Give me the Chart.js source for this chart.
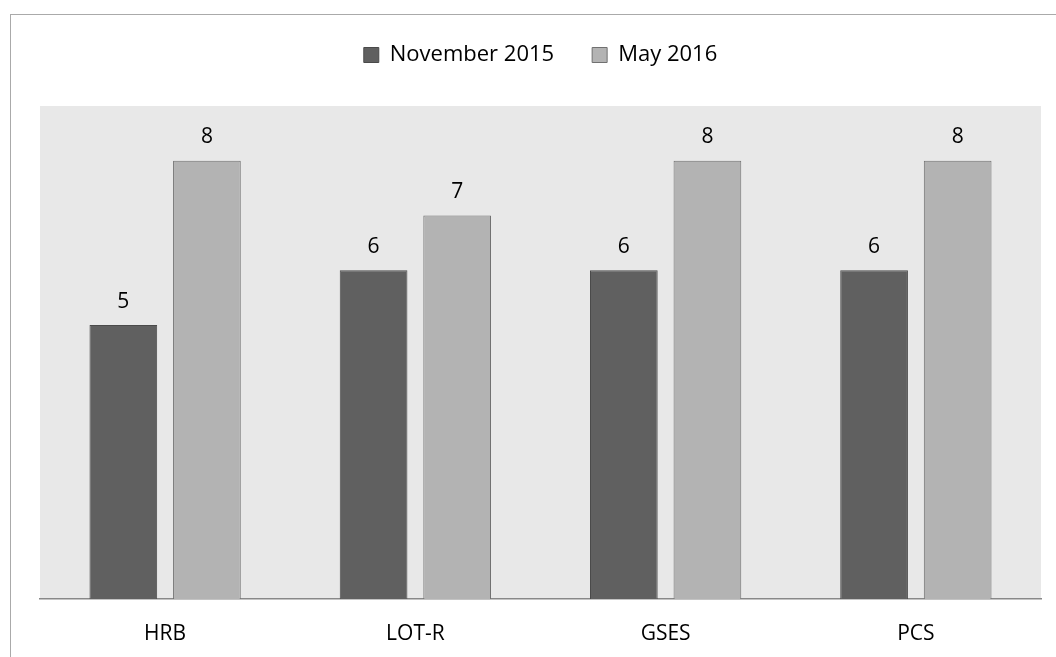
<!DOCTYPE html>
<html lang="en">
<head>
  <meta charset="UTF-8" />
  <title>Survey scores</title>
  <script src="https://cdn.jsdelivr.net/npm/chart.js"></script>
  <style>
    html, body { margin: 0; padding: 0; background: #fff; }
    .wrap { position: relative; width: 1056px; height: 657px; }
    .frame { position: absolute; left: 10px; top: 14px; right: 0; bottom: 0; border-left: 1px solid #aaa; border-top: 1px solid #aaa; pointer-events: none; }
    canvas { position: absolute; left: 0; top: 0; }
  </style>
</head>
<body>
  <div class="wrap">
    <canvas id="chart" width="1056" height="657"></canvas>
    <div class="frame"></div>
  </div>

  <script>
    const categories = ['HRB', 'LOT-R', 'GSES', 'PCS'];
    const nov2015 = [5, 6, 6, 6];
    const may2016 = [8, 7, 8, 8];

    const font = "'Open Sans', 'Liberation Sans', sans-serif";

    // grey plot background
    const plotBg = {
      id: 'plotBg',
      beforeDraw(chart) {
        const { ctx, chartArea: a } = chart;
        ctx.save();
        ctx.fillStyle = '#e8e8e8';
        ctx.fillRect(a.left, a.top, a.right - a.left, a.bottom - a.top);
        ctx.restore();
      }
    };

    // extra gap between legend and plot
    const legendGap = {
      id: 'legendGap',
      beforeInit(chart) {
        const fit = chart.legend.fit;
        chart.legend.fit = function () {
          fit.bind(chart.legend)();
          this.height += 30;
        };
      }
    };

    // value labels above the bars
    const valueLabels = {
      id: 'valueLabels',
      afterDatasetsDraw(chart) {
        const { ctx } = chart;
        ctx.save();
        ctx.fillStyle = '#000';
        ctx.font = `21px ${font}`;
        ctx.textAlign = 'center';
        ctx.textBaseline = 'bottom';
        chart.data.datasets.forEach((ds, i) => {
          chart.getDatasetMeta(i).data.forEach((bar, j) => {
            ctx.fillText(ds.data[j], bar.x, bar.y - 13);
          });
        });
        ctx.restore();
      }
    };

    new Chart(document.getElementById('chart'), {
      type: 'bar',
      data: {
        labels: categories,
        datasets: [
          {
            label: 'November 2015',
            data: nov2015,
            backgroundColor: '#606060',
            borderColor: '#4a4a4a',
            borderWidth: 1,
            categoryPercentage: 0.668,
            barPercentage: 0.81
          },
          {
            label: 'May 2016',
            data: may2016,
            backgroundColor: '#b3b3b3',
            borderColor: '#707070',
            borderWidth: 1,
            categoryPercentage: 0.668,
            barPercentage: 0.81
          }
        ]
      },
      options: {
        responsive: false,
        animation: false,
        layout: { padding: { left: 40, right: 15, top: 6, bottom: 0 } },
        plugins: {
          legend: {
            position: 'top',
            labels: {
              color: '#000',
              font: { family: font, size: 22 },
              boxWidth: 15,
              boxHeight: 15,
              padding: 38
            }
          },
          tooltip: { enabled: false }
        },
        scales: {
          y: {
            display: false,
            min: 0,
            max: 9
          },
          x: {
            grid: { display: false, drawTicks: false },
            border: { color: '#888', width: 1.5 },
            afterFit(scale) { scale.height = 58; },
            ticks: {
              color: '#000',
              font: { family: font, size: 21 },
              padding: 22
            }
          }
        }
      },
      plugins: [plotBg, legendGap, valueLabels]
    });
  </script>
</body>
</html>
